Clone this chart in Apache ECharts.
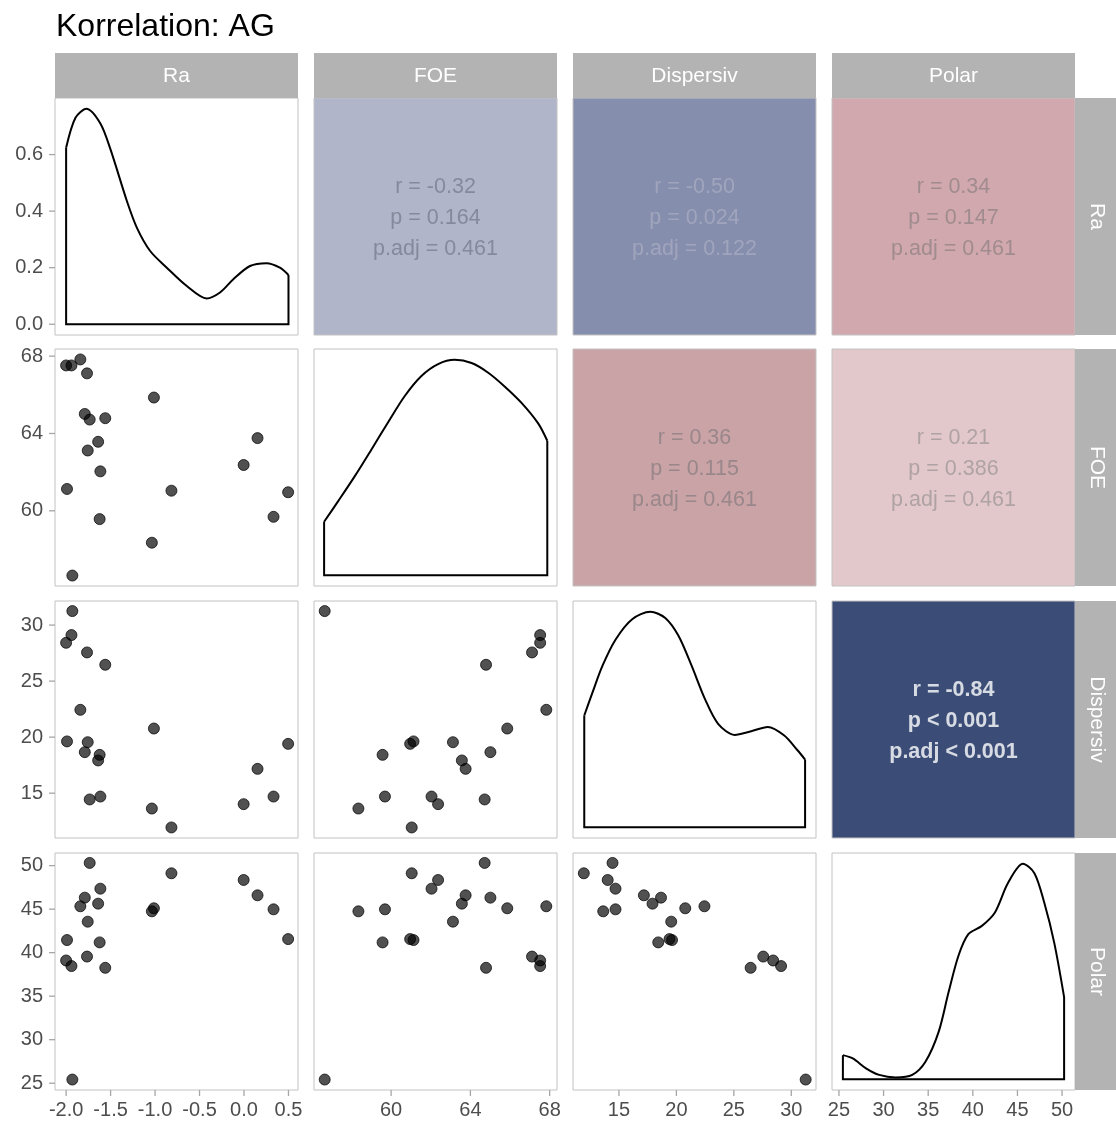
<!DOCTYPE html>
<html><head><meta charset="utf-8">
<script src="https://cdn.jsdelivr.net/npm/echarts@6/dist/echarts.min.js"></script>
<style>html,body{margin:0;padding:0;background:#fff}#c{width:1116px;height:1124px}</style>
</head><body><div id="c"></div>
<script>
// ---------------- data ----------------
const varNames = ['Ra', 'FOE', 'Dispersiv', 'Polar'];
const ra    = [-2.00, -1.99, -1.94, -1.93, -1.84, -1.79, -1.765, -1.757, -1.735, -1.64, -1.615, -1.623, -1.56, -1.013, -1.036, -0.816, -0.004, 0.152, 0.332, 0.496];
const foe   = [67.52, 61.13, 67.52, 56.65, 67.83, 65.01, 67.11, 63.12, 64.72, 63.57, 62.04, 59.57, 64.79, 65.86, 58.35, 61.04, 62.37, 63.76, 59.69, 60.96];
const disp  = [28.42, 19.62, 29.11, 31.25, 22.44, 18.66, 27.56, 19.55, 14.44, 17.92, 14.70, 18.42, 26.46, 20.77, 13.63, 11.94, 14.02, 17.17, 14.70, 19.40];
const polar = [39.10, 41.45, 38.46, 25.42, 45.33, 46.32, 39.55, 43.56, 50.31, 45.63, 47.35, 41.18, 38.26, 45.10, 44.75, 49.12, 48.35, 46.59, 44.98, 41.56];

// density curves
const raDensX    = [-2.0, -1.895, -1.772, -1.615, -1.503, -1.316, -1.204, -1.055, -0.868, -0.643, -0.419, -0.27, -0.12, 0.067, 0.253, 0.403, 0.5];
const raDensY    = [0.624, 0.73, 0.762, 0.71, 0.62, 0.435, 0.341, 0.259, 0.2, 0.135, 0.091, 0.112, 0.159, 0.206, 0.216, 0.2, 0.174];
const foeDensX   = [56.62, 57.33, 58.17, 59.01, 59.85, 60.69, 61.53, 62.37, 63.21, 64.06, 64.9, 65.74, 66.58, 67.42, 67.88];
const foeDensY   = [0.031, 0.043, 0.0575, 0.073, 0.0888, 0.104, 0.1156, 0.1225, 0.125, 0.1231, 0.1175, 0.1094, 0.100, 0.0881, 0.078];
const dispDensX  = [11.98, 12.70, 13.56, 14.71, 16.15, 17.73, 19.03, 20.18, 21.33, 22.48, 23.63, 25.07, 26.51, 27.95, 29.39, 30.54, 31.2];
const dispDensY  = [0.0363, 0.0438, 0.0524, 0.061, 0.0676, 0.070, 0.068, 0.0622, 0.0524, 0.0417, 0.0336, 0.030, 0.0312, 0.0326, 0.0298, 0.025, 0.022];
const polarDensX = [25.44, 26.55, 28.03, 29.51, 31.36, 33.21, 34.69, 36.17, 37.28, 38.39, 39.5, 40.98, 42.46, 43.94, 45.61, 46.9, 48.01, 49.12, 50.23];
const polarDensY = [0.0095, 0.0082, 0.0043, 0.0017, 0.0007, 0.0017, 0.0069, 0.0187, 0.0343, 0.0487, 0.0572, 0.0604, 0.0657, 0.0774, 0.085, 0.0813, 0.0696, 0.0539, 0.0324];

// correlation cells: [row, col]
const corCells  = [[0,1],[0,2],[0,3],[1,2],[1,3],[2,3]];
const corR      = ['-0.32', '-0.50', '0.34', '0.36', '0.21', '-0.84'];
const corP      = ['= 0.164', '= 0.024', '= 0.147', '= 0.115', '= 0.386', '< 0.001'];
const corPadj   = ['= 0.461', '= 0.122', '= 0.461', '= 0.461', '= 0.461', '< 0.001'];

// tick labels
const raTicks    = [-2.0, -1.5, -1.0, -0.5, 0.0, 0.5];
const foeTicks   = [60, 64, 68];
const dispTicks  = [15, 20, 25, 30];
const polarTicks = [25, 30, 35, 40, 45, 50];
const densTicks  = [0.0, 0.2, 0.4, 0.6];

// ---------------- styling / layout ----------------
const FONT = 'Liberation Sans, Arial, Helvetica, sans-serif';
const colLeft = [55, 314, 573, 832];
const rowTop  = [98, 349, 601, 853];
const PW = 243, PH = 237;
const cellBg   = ['#b0b5ca', '#868ead', '#d1a8ad', '#caa3a6', '#e2c8ca', '#3b4d77'];
const cellText = ['#7a7e8e', '#a6abc0', '#938487', '#8c8083', '#a3999b', '#ffffff'];
const cellBold = [false, false, false, false, false, true];

const vals   = [ra, foe, disp, polar];
const ticks  = [raTicks, foeTicks, dispTicks, polarTicks];
const xRange = [[-2.125, 0.607], [56.11, 68.37], [11.0, 32.15], [24.22, 51.45]];
const yRange = [[-0.038, 0.80], [56.11, 68.37], [11.0, 32.15], [24.22, 51.45]];
const dens   = [[raDensX, raDensY], [foeDensX, foeDensY], [dispDensX, dispDensY], [polarDensX, polarDensY]];
const densMax = [0.762, 0.125, 0.070, 0.085];
const fmt = [v => v.toFixed(1), v => String(v), v => String(v), v => String(v)];

const grids = [], xAxes = [], yAxes = [], series = [];
const BORDER = '#c2c2c2';
const AXTXT = '#4d4d4d';
const TICKC = '#a6a6a6';
const TICKLEN = 6;

function tickSeries(idx, pts, horizontal) {
  return {
    type: 'custom', xAxisIndex: idx, yAxisIndex: idx, silent: true, clip: false, z: 5,
    data: pts,
    renderItem: function (params, api) {
      const p = api.coord([api.value(0), api.value(1)]);
      const shape = horizontal
        ? {x1: p[0] - TICKLEN, y1: p[1], x2: p[0], y2: p[1]}
        : {x1: p[0], y1: p[1], x2: p[0], y2: p[1] + TICKLEN};
      return {type: 'line', shape: shape, style: {stroke: TICKC, lineWidth: 1.3}};
    }
  };
}

for (let r = 0; r < 4; r++) {
  for (let c = 0; c < 4; c++) {
    const idx = r * 4 + c;
    const isCor = r < c;
    const ci = isCor ? corCells.findIndex(a => a[0] === r && a[1] === c) : -1;
    grids.push({
      left: colLeft[c], top: rowTop[r], width: PW, height: PH,
      show: true, borderColor: BORDER, borderWidth: 1,
      backgroundColor: isCor ? cellBg[ci] : '#ffffff'
    });
    if (isCor) {
      xAxes.push({gridIndex: idx, type: 'value', min: 0, max: 1, show: false});
      yAxes.push({gridIndex: idx, type: 'value', min: 0, max: 1, show: false});
    } else {
      const showX = (r === 3);
      xAxes.push({
        gridIndex: idx, type: 'value', position: 'bottom', min: xRange[c][0], max: xRange[c][1],
        axisLine: {show: false, onZero: false}, splitLine: {show: false}, axisTick: {show: false},
        axisLabel: {show: showX, customValues: ticks[c], formatter: fmt[c], fontSize: 20, color: AXTXT, fontFamily: FONT, margin: 10}
      });
      const showY = (c === 0);
      let yMin, yMax, yT, yF;
      if (r === c) {
        yMin = -0.05 * densMax[r]; yMax = 1.05 * densMax[r];
        yT = r === 0 ? densTicks : []; yF = v => v.toFixed(1);
      } else {
        yMin = yRange[r][0]; yMax = yRange[r][1]; yT = ticks[r]; yF = fmt[r];
      }
      yAxes.push({
        gridIndex: idx, type: 'value', position: 'left', min: yMin, max: yMax,
        axisLine: {show: false, onZero: false}, splitLine: {show: false}, axisTick: {show: false},
        axisLabel: {show: showY, customValues: yT, formatter: yF, fontSize: 20, color: AXTXT, fontFamily: FONT, margin: 12}
      });
      if (showY) series.push(tickSeries(idx, yT.map(v => [xRange[c][0], v]), true));
      if (showX) series.push(tickSeries(idx, ticks[c].map(v => [v, yMin]), false));
    }

    if (r > c) {
      const xs = vals[c], ys = vals[r];
      series.push({
        type: 'scatter', xAxisIndex: idx, yAxisIndex: idx, silent: true,
        data: xs.map((x, i) => [x, ys[i]]),
        symbolSize: 11,
        itemStyle: {color: 'rgba(0,0,0,0.85)', borderColor: 'rgba(0,0,0,0.9)', borderWidth: 1}
      });
    } else if (r === c) {
      const dx = dens[r][0], dy = dens[r][1];
      const n = dx.length;
      series.push({
        type: 'line', xAxisIndex: idx, yAxisIndex: idx, silent: true,
        data: dx.map((x, i) => [x, dy[i]]), smooth: 0.3, showSymbol: false,
        lineStyle: {color: '#000', width: 2}
      });
      series.push({
        type: 'line', xAxisIndex: idx, yAxisIndex: idx, silent: true,
        data: [[dx[n - 1], dy[n - 1]], [dx[n - 1], 0], [dx[0], 0], [dx[0], dy[0]]],
        smooth: false, showSymbol: false,
        lineStyle: {color: '#000', width: 2, join: 'miter'}
      });
    } else {
      series.push({
        type: 'scatter', xAxisIndex: idx, yAxisIndex: idx, silent: true,
        data: [[0.5, 0.5]], symbolSize: 1, itemStyle: {color: 'rgba(0,0,0,0)'},
        label: {
          show: true, position: 'inside', offset: [0, 2],
          formatter: 'r = ' + corR[ci] + '\np ' + corP[ci] + '\np.adj ' + corPadj[ci],
          fontSize: 21.5, lineHeight: 31, color: cellText[ci], fontFamily: FONT,
          fontWeight: cellBold[ci] ? 'bold' : 'normal', align: 'center', verticalAlign: 'middle'
        }
      });
    }
  }
}

// strips
const graphics = [];
for (let c = 0; c < 4; c++) {
  graphics.push({type: 'rect', left: colLeft[c], top: 53, shape: {width: PW, height: 45}, style: {fill: '#b3b3b3'}, silent: true});
  graphics.push({type: 'text', x: colLeft[c] + PW / 2, y: 76, style: {text: varNames[c], fill: '#ffffff', font: '21px ' + FONT, textAlign: 'center', textVerticalAlign: 'middle'}, silent: true});
}
for (let r = 0; r < 4; r++) {
  graphics.push({type: 'rect', left: 1075, top: rowTop[r], shape: {width: 45, height: PH}, style: {fill: '#b3b3b3'}, silent: true});
  graphics.push({type: 'text', x: 1097, y: rowTop[r] + PH / 2, rotation: -Math.PI / 2, style: {text: varNames[r], fill: '#ffffff', font: '21px ' + FONT, textAlign: 'center', textVerticalAlign: 'middle'}, silent: true});
}

const chart = echarts.init(document.getElementById('c'), null, {renderer: 'canvas'});
chart.setOption({
  animation: false,
  backgroundColor: '#ffffff',
  title: {text: 'Korrelation: AG', left: 51, top: 6, textStyle: {fontSize: 32, fontWeight: 'normal', color: '#000', fontFamily: FONT}},
  grid: grids, xAxis: xAxes, yAxis: yAxes, series: series,
  graphic: graphics
});
</script></body></html>
